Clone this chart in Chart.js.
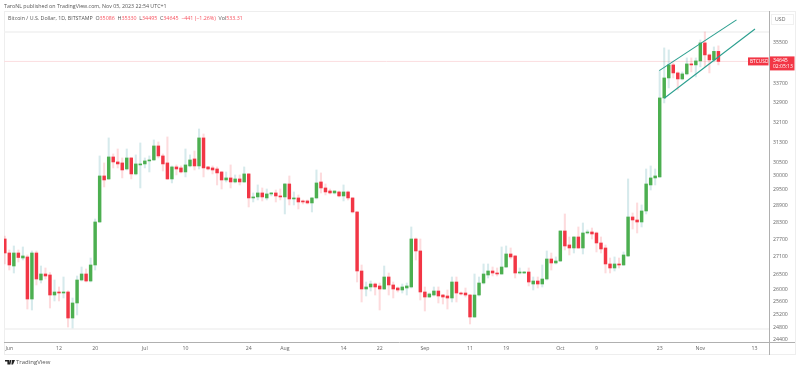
<!DOCTYPE html>
<html>
<head>
<meta charset="utf-8">
<title>BTCUSD</title>
<script src="https://cdn.jsdelivr.net/npm/chart.js@4/dist/chart.umd.min.js"></script>
<style>
html, body { margin: 0; padding: 0; background: #fff; overflow: hidden; }
body { width: 800px; height: 370px; position: relative; font-family: "Open Sans", sans-serif; }
canvas { position: absolute; left: 0; top: 0; }
.txt { position: absolute; white-space: nowrap; font-size: 5.3px; line-height: 7px; color: #555; }
.up { color: #f7525f; }
#logo { position: absolute; left: 5px; top: 360px; }
</style>
</head>
<body>
<canvas id="grafico" width="800" height="370"></canvas>
<div class="txt" style="left:4px;top:3px;">TaroNL published on TradingView.com, Nov 05, 2023 22:54 UTC+1</div>
<div class="txt" style="left:8px;top:15px;">Bitcoin / U.S. Dollar, 1D, BITSTAMP&nbsp; O<span class="up">35086</span>&nbsp; H<span class="up">35330</span>&nbsp; L<span class="up">34495</span>&nbsp; C<span class="up">34645</span>&nbsp; <span class="up">−441 (−1.26%)</span>&nbsp; Vol<span class="up">533.31</span></div>
<svg id="logo" width="10" height="5" viewBox="0 0 10 5"><path d="M0 0h4v4.6H2.4V1.6H0zM4.6 0h1.8L5.4 4.6H3.8zM7 0h3L8 4.6H6.4z" fill="#222"/></svg>
<div class="txt" style="left:16px;top:358.5px;font-size:6px;color:#555;">TradingView</div>
<script>
// candles, May 31 to Nov 5, one entry per day
const opens = [27708,27224,26782,27224,27053,27088,25692,27224,26314,26514,26481,25822,25920,25887,25920,25085,25564,26314,26514,26281,
26816,28307,29995,29882,30721,30528,30490,30260,30682,30071,30414,30452,30567,30605,31149,30760,30490,29882,30337,30299,
30146,30375,30644,30375,31465,30337,30299,30260,30146,29844,29920,29769,29882,29769,30071,29176,29213,29360,29176,29323,
29360,29249,29213,29694,29139,29176,29066,29066,28993,29176,29769,29545,29433,29360,29397,29249,29397,29176,28666,26614,
26018,26084,26182,26117,26018,26414,26150,26051,25985,26051,26084,27708,27293,25920,25757,25822,25952,25822,25790,25725,
26248,25887,25887,25822,25117,25822,26215,26481,26614,26547,26514,26748,27190,27122,26547,26547,26580,26182,26281,26182,
26347,27019,26884,26951,27988,27500,27396,27778,27396,27918,27953,27918,27569,27396,26850,26715,26850,26816,27122,28486,
28378,28307,28702,29657,29920,29958,33089,33932,34493,34147,33890,34104,34536,34493,34667,35461,34930,34710,35086];
const highs = [27813,27327,27465,27327,27431,27156,27293,27293,26782,26715,26560,26314,26084,26414,25960,25725,26447,26748,26681,27053,
28414,30760,30490,31465,30837,31031,30682,31031,30700,30799,31267,30682,30760,31385,31306,30837,31505,30375,30414,30375,
31031,30799,30953,31822,31622,30360,30375,30337,30160,30146,30414,30033,30033,30337,30090,29360,29657,29545,29507,29380,
29470,29507,29710,29995,29397,29286,29102,29102,29190,30222,30109,29694,29507,29440,29433,29657,29433,29190,28680,26816,
26248,26281,26215,26215,26782,26547,26248,26084,26182,26215,28130,27743,27708,26084,25887,26084,26084,25840,25985,26414,
26414,25920,26051,25840,26514,26414,26850,26850,26748,26715,27431,27465,27396,27140,26715,26600,26715,26414,26414,26816,
27293,27224,27088,28000,28594,27778,27790,28130,28272,28023,28094,27953,27778,27500,27053,27088,27053,27259,29882,28630,
28993,28920,30260,30375,30260,34233,35239,35150,34580,34190,34190,34798,34798,34798,35595,35955,34974,35283,35330];
const lows = [26850,26647,26547,26917,26985,25371,25339,26150,26215,26347,25403,25628,25628,25725,24802,24771,25181,26281,26248,26248,
26647,28290,29582,29860,30299,30299,29920,30222,29882,30033,29545,30299,30146,30590,30682,30184,29860,29732,30033,30109,
29958,30337,30222,30260,29958,30222,30071,29657,29507,29769,29545,29732,29657,29750,28847,29029,29102,29066,29102,29249,
29029,29102,28594,28920,28920,28774,28956,28956,28666,29139,29360,29286,29323,29323,29213,29066,29102,28630,26248,25596,
25790,25952,25822,25339,26000,25822,25725,25920,25887,25822,26051,26985,25660,25307,25740,25790,25564,25532,25371,25596,
25596,25822,25757,24897,25100,25790,26182,26381,26447,26447,26500,26730,27019,26381,26514,26530,26117,25985,26051,26084,
26314,26647,26850,26930,27327,27156,27224,27380,27190,27883,27708,27259,27224,26547,26547,26614,26715,26800,27100,28059,
27918,28130,28594,29470,29657,29940,32882,33509,33932,33424,33847,34061,34190,33975,34406,34406,34147,34623,34495];
const closes = [27224,26816,27224,27070,27122,25692,27224,26347,26514,26447,25822,25920,25887,25920,25085,25564,26314,26514,26281,26816,
28307,29995,29844,30721,30528,30452,30222,30682,30071,30452,30452,30567,30605,31149,30760,30452,29882,30337,30260,30146,
30414,30605,30375,31465,30299,30260,30222,30109,29844,29920,29769,29882,29769,30071,29176,29213,29360,29213,29323,29360,
29249,29213,29694,29139,29176,29029,29029,28993,29176,29732,29545,29397,29360,29433,29249,29397,29176,28666,26614,26018,
26084,26182,26084,26018,26414,26150,26018,25985,26084,26117,27708,27293,25920,25757,25855,25952,25790,25757,25725,26248,
25887,25855,25822,25117,25822,26215,26514,26614,26547,26514,26748,27190,27088,26547,26580,26580,26248,26281,26182,26347,
27019,26884,26951,27988,27465,27396,27778,27396,27918,27953,27883,27569,27362,26850,26715,26850,26816,27156,28486,28378,
28307,28702,29694,29920,29995,33089,33932,34493,34147,33890,34104,34536,34493,34667,35461,34930,34710,35086,34645];

// day index of each x axis label
const xTickDays = [1,12,20,31,40,54,62,75,83,93,103,111,123,131,145,154,166];
const xTickLabels = ['Jun','12','20','Jul','10','24','Aug','14','22','Sep','11','19','Oct','9','23','Nov','13'];
const yTicks = [24400,24800,25200,25600,26000,26500,27100,27700,28300,28900,29500,30000,30500,31300,32100,32900,33700,35500];

// drawn channel: [day, price] at both ends
const channelUpper = [[144.9,34246],[162,36503]];
const channelLower = [[146,33076],[166.1,36090]];
const lastPrice = 34645;
const levelHigh = 35955;
const levelLow = 24740;

const dayMin = -0.18;
const dayMax = 169.2;
const priceMin = 24339;
const priceMax = 36868;

const verde = '#4caf50';
const vermelho = '#f23645';
const pavioVerde = 'rgba(30,140,150,0.18)';
const pavioVermelho = 'rgba(242,54,69,0.18)';

let corpos = opens.map((o, i) => ({ x: i, y: [o, closes[i]] }));
let pavios = opens.map((o, i) => ({ x: i, y: [lows[i], highs[i]] }));
let cores = opens.map((o, i) => closes[i] >= o ? verde : vermelho);
let coresPavio = opens.map((o, i) => closes[i] >= o ? pavioVerde : pavioVermelho);

function pontos(pares) {
    return pares.map(p => ({ x: p[0], y: p[1] }));
}

function linhaH(valor) {
    return [{ x: dayMin, y: valor }, { x: dayMax, y: valor }];
}

const molduraPlugin = {
    id: 'moldura',
    beforeDraw(chart) {
        const c = chart.ctx;
        const a = chart.chartArea;
        c.save();
        c.strokeStyle = '#eeeeee';
        c.lineWidth = 1;
        c.strokeRect(4.5, 11.5, 791, 343);
        c.strokeStyle = '#b0b0b0';
        c.beginPath();
        c.moveTo(a.left, 342.5);
        c.lineTo(795, 342.5);
        c.moveTo(769.5, 11);
        c.lineTo(769.5, 355);
        c.stroke();
        c.restore();
    },
    afterDraw(chart) {
        const c = chart.ctx;
        const y = chart.scales.y.getPixelForValue(lastPrice);
        c.save();
        c.fillStyle = vermelho;
        c.fillRect(748, y - 4, 20.5, 8);
        c.fillRect(770, y - 5, 24.5, 14);
        c.fillStyle = '#fff';
        c.textBaseline = 'middle';
        c.textAlign = 'left';
        c.font = '4.8px "Open Sans"';
        c.fillText('BTCUSD', 750, y + 0.3);
        c.font = '5.2px "Open Sans"';
        c.fillText('34645', 773, y - 0.5);
        c.font = '5px "Open Sans"';
        c.fillText('02:05:13', 773, y + 5);
        // USD box
        c.strokeStyle = '#f0f0f0';
        c.strokeRect(771.5, 14.5, 22, 10);
        c.fillStyle = '#666';
        c.font = '5.2px "Open Sans"';
        c.fillText('USD', 775, 19.8);
        c.restore();
    }
};

new Chart(document.getElementById('grafico').getContext('2d'), {
    type: 'bar',
    plugins: [molduraPlugin],
    data: {
        datasets: [
            { type: 'line', data: linhaH(levelHigh), borderColor: '#f0f0f0', borderWidth: 1.5, pointRadius: 0, order: 5 },
            { type: 'line', data: linhaH(levelLow), borderColor: '#f0f0f0', borderWidth: 1.5, pointRadius: 0, order: 5 },
            { type: 'line', data: linhaH(lastPrice), borderColor: '#fbdde0', borderWidth: 1, pointRadius: 0, order: 4 },
            { data: pavios, backgroundColor: coresPavio, borderWidth: 0, barThickness: 1.4, grouped: false, order: 3 },
            { data: corpos, backgroundColor: cores, borderWidth: 0, barThickness: 2.8, minBarLength: 1, grouped: false, order: 2 },
            { type: 'line', data: pontos(channelUpper), borderColor: '#2b9f8f', borderWidth: 1.1, pointRadius: 0, order: 1 },
            { type: 'line', data: pontos(channelLower), borderColor: '#2b9f8f', borderWidth: 1.1, pointRadius: 0, order: 1 }
        ]
    },
    options: {
        responsive: false,
        animation: false,
        layout: { padding: { left: 4, top: 12, right: 5, bottom: 16 } },
        plugins: { legend: { display: false }, tooltip: { enabled: false } },
        scales: {
            x: {
                type: 'linear',
                offset: false,
                min: dayMin,
                max: dayMax,
                afterFit: s => { s.height = 12; },
                afterBuildTicks: s => { s.ticks = xTickDays.map(d => ({ value: d })); },
                grid: { display: false, drawTicks: false },
                border: { display: false },
                ticks: {
                    autoSkip: false,
                    maxRotation: 0,
                    padding: 3,
                    color: '#666',
                    font: { size: 5.2, family: '"Open Sans"' },
                    callback: function(value) { return xTickLabels[xTickDays.indexOf(value)]; }
                }
            },
            y: {
                type: 'logarithmic',
                position: 'right',
                min: priceMin,
                max: priceMax,
                afterFit: s => { s.width = 26; },
                afterBuildTicks: s => { s.ticks = yTicks.map(v => ({ value: v })); },
                grid: { display: false, drawTicks: false },
                border: { display: false },
                ticks: {
                    autoSkip: false,
                    padding: 4,
                    color: '#666',
                    font: { size: 5.2, family: '"Open Sans"' },
                    callback: value => String(value)
                }
            }
        }
    }
});
</script>
</body>
</html>
